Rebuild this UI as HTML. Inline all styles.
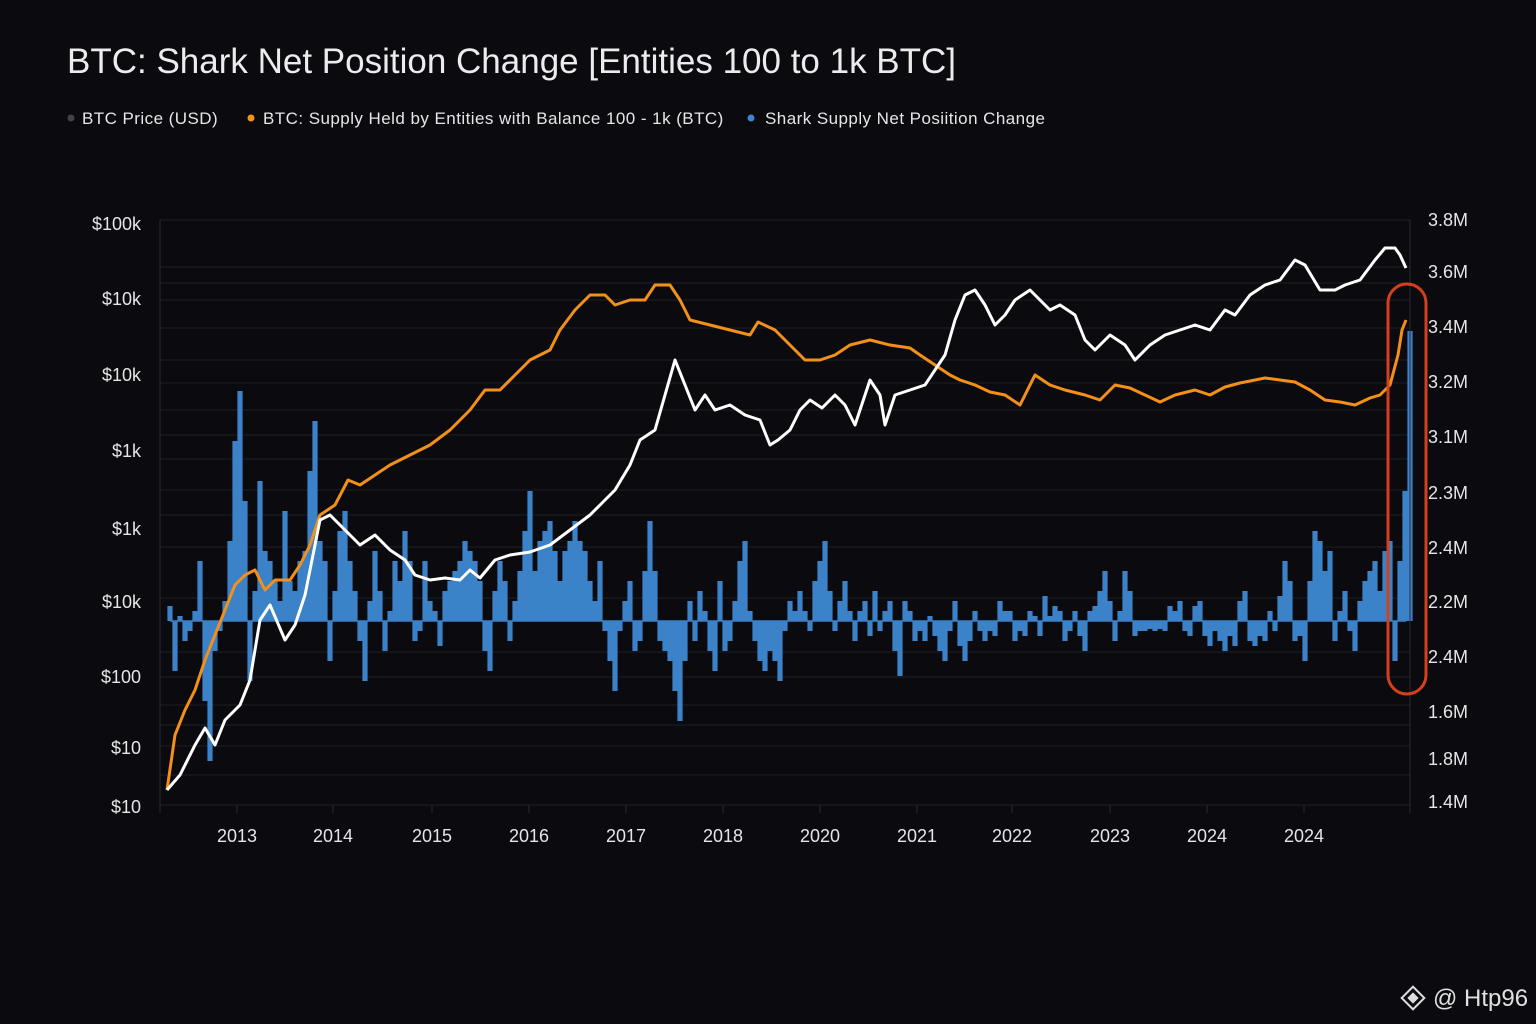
<!DOCTYPE html>
<html><head><meta charset="utf-8"><style>
html,body{margin:0;padding:0;background:#0a0a0f;}
body{width:1536px;height:1024px;overflow:hidden;font-family:"Liberation Sans",sans-serif;}
</style></head><body>
<svg id="chart" width="1536" height="1024" xmlns="http://www.w3.org/2000/svg" style="display:block">
<rect width="1536" height="1024" fill="#0a0a0f"/>
<text x="67" y="73" fill="#ececec" font-size="35">BTC: Shark Net Position Change [Entities 100 to 1k BTC]</text>
<g font-size="17" fill="#e6e6e6" letter-spacing="0.45">
 <g><circle cx="71" cy="118" r="3.5" fill="#444"/><text x="82" y="124">BTC Price (USD)</text></g>
 <g><circle cx="251" cy="118" r="3.5" fill="#f7931a"/><text x="263" y="124">BTC: Supply Held by Entities with Balance 100 - 1k (BTC)</text></g>
 <g><circle cx="751" cy="118" r="3.5" fill="#3d86cf"/><text x="765" y="124">Shark Supply Net Posiition Change</text></g>
</g>
<g id="grid"></g>
<g id="bars"></g>
<g id="lines"></g>
<g id="axes"></g>
<rect x="1388" y="284" width="38" height="410" rx="19" ry="19" fill="none" stroke="#d4401c" stroke-width="3"/>
<g>
 <g transform="translate(1413,998) rotate(45)" fill="none" stroke="#ddd" stroke-width="2"><rect x="-8" y="-8" width="16" height="16"/><rect x="-3" y="-3" width="6" height="6" fill="#ddd"/></g>
 <text x="1433" y="1006" fill="#e0e0e0" font-size="24">@ Htp96</text>
</g>
</svg>
<script>
// time units (weeks since start); value units (height above plot bottom)
const priceT=[7,20,35,45,55,65,80,90,100,110,125,135,145,155,160,170,185,200,215,230,245,255,270,285,300,310,320,335,350,370,390,410,430,440,455,470,480,495,505,515,525,535,545,555,570,585,600,610,618,630,640,650,662,675,685,695,710,720,725,735,750,765,775,785,795,805,815,825,835,845,855,870,880,890,900,915,925,935,950,965,975,990,1005,1020,1035,1050,1065,1075,1090,1105,1120,1135,1145,1160,1175,1185,1200,1215,1225,1235,1240,1246];
const priceV=[15,30,60,77,60,85,100,125,185,200,165,180,210,260,285,290,275,260,270,255,245,230,225,227,225,235,227,245,250,253,260,275,290,300,315,340,365,375,410,445,420,395,410,395,400,390,385,360,365,375,395,405,397,410,400,380,425,410,380,410,415,420,435,450,485,510,515,500,480,490,505,515,505,495,500,490,465,455,470,460,445,460,470,475,480,475,495,490,510,520,525,545,540,515,515,520,525,545,557,557,550,537,535];
const supplyT=[7,15,25,35,45,55,65,75,85,95,105,115,130,140,150,160,175,188,200,215,230,250,270,290,310,325,340,355,370,390,400,415,430,445,455,470,485,495,510,520,530,550,570,590,598,615,630,645,660,675,690,710,730,750,760,775,790,800,815,830,845,860,875,890,905,925,940,955,970,985,1000,1015,1035,1050,1065,1080,1095,1105,1120,1135,1150,1165,1180,1195,1210,1220,1230,1238,1242,1246];
const supplyV=[15,70,95,115,145,170,195,220,230,235,215,225,225,240,260,290,300,325,320,330,340,350,360,375,395,415,415,430,445,455,475,495,510,510,500,505,505,520,520,505,485,480,475,470,483,475,460,445,445,450,460,465,460,457,450,440,430,425,420,413,410,400,430,420,415,410,405,420,417,410,403,410,415,410,418,422,425,427,425,423,415,405,403,400,407,410,420,450,475,485,500,520];
const netChange=[15,-50,5,-20,-10,10,60,-80,-140,-30,-10,20,80,180,230,120,-60,30,140,70,60,40,20,110,40,30,60,70,150,200,80,60,-40,30,90,110,60,30,-20,-60,20,70,30,-30,10,60,40,90,60,-20,-10,60,20,10,-25,30,40,50,60,80,70,60,40,-30,-50,30,60,40,-20,20,50,90,130,50,80,90,100,70,40,70,80,100,80,70,40,20,60,-10,-40,-70,-10,20,40,-30,-20,50,100,50,-20,-30,-40,-70,-100,-40,20,-20,30,10,-30,-50,40,-30,-20,20,60,80,10,-20,-40,-50,-30,-40,-60,-10,20,10,30,10,-10,40,60,80,30,-10,20,40,10,-20,10,20,-15,30,-10,10,20,-30,-55,20,10,-20,-10,-20,5,-15,-30,-40,-10,20,-25,-40,-20,10,-10,-20,-10,-15,20,10,10,-20,-10,-15,10,5,-15,25,5,15,10,-20,-10,10,-15,-30,10,15,30,50,20,-20,10,50,30,-15,-10,-10,-8,-10,-8,-10,15,10,20,-10,-15,15,20,-15,-25,-10,-20,-30,-15,-25,20,30,-20,-25,-15,-20,10,-10,25,60,40,-20,-15,-40,40,90,80,50,70,-20,10,30,-10,-30,20,40,50,60,30,70,80,-40,60,130,290];
const netStartT=10, netStepT=5, netBaseV=184;
const leftTicks=["$100k","$10k","$10k","$1k","$1k","$10k","$100","$10","$10"];
const leftTickV=[581,506,430,354,276,203,128,57,-2];
const rightTicks=["3.8M","3.6M","3.4M","3.2M","3.1M","2.3M","2.4M","2.2M","2.4M","1.6M","1.8M","1.4M"];
const rightTickV=[585,533,478,423,368,312,257,203,148,93,46,3];
const yearLabels=["2013","2014","2015","2016","2017","2018","2020","2021","2022","2023","2024","2024"];
const yearT=[77,173,272,369,466,563,660,757,852,950,1047,1144];
const gridV=[585,538,522,505,477,445,422,395,370,346,315,290,258,207,153,128,100,80,59,30,0];

const X0=160,X1=1410,Y0=805,Y1=220,TMAX=1250,VMAX=585;
const xs=t=>X0+t*(X1-X0)/TMAX;
const ys=v=>Y0-v*(Y0-Y1)/VMAX;
const NS="http://www.w3.org/2000/svg";
function mk(tag,attrs,parent){const e=document.createElementNS(NS,tag);for(const k in attrs)e.setAttribute(k,attrs[k]);parent.appendChild(e);return e;}
const grid=document.getElementById('grid'),bars=document.getElementById('bars'),lines=document.getElementById('lines'),axes=document.getElementById('axes');
gridV.forEach(v=>{const l=mk('line',{x1:X0,x2:X1,y1:ys(v),y2:ys(v),stroke:'#1d1f27','stroke-width':1},grid);

});
netChange.forEach((v,i)=>{const t=netStartT+i*netStepT;const x=xs(t);const ya=ys(netBaseV),yb=ys(netBaseV+v);
const r=mk('rect',{x:x-2.6,y:Math.min(ya,yb),width:5.2,height:Math.max(0.5,Math.abs(ya-yb)),fill:'#3b82c8'},bars);

});
const bl=mk('line',{x1:xs(netStartT),x2:X1-4,y1:ys(netBaseV),y2:ys(netBaseV),stroke:'#3b82c8','stroke-width':1.5},bars);


function path(T,V,color,name){const d=T.map((t,i)=>(i?'L':'M')+xs(t).toFixed(1)+','+ys(V[i]).toFixed(1)).join('');
const p=mk('path',{d:d,fill:'none',stroke:color,'stroke-width':3,'stroke-linejoin':'round'},lines);

}
path(supplyT,supplyV,'#f39019','supply-line');
path(priceT,priceV,'#ffffff','price-line');
const la=mk('line',{x1:X0,x2:X0,y1:Y1,y2:Y0+8,stroke:'#2a2c34'},axes);


const ra=mk('line',{x1:X1,x2:X1,y1:Y1,y2:Y0+8,stroke:'#2a2c34'},axes);


leftTicks.forEach((s,i)=>{const t=mk('text',{x:141,y:ys(leftTickV[i])+6,'text-anchor':'end',fill:'#e6e6e6','font-size':18},axes);t.textContent=s;

});
rightTicks.forEach((s,i)=>{const t=mk('text',{x:1428,y:ys(rightTickV[i])+6,fill:'#e6e6e6','font-size':18},axes);t.textContent=s;

});
yearLabels.forEach((s,i)=>{const x=xs(yearT[i]);
const tk=mk('line',{x1:x,x2:x,y1:Y0,y2:Y0+8,stroke:'#2a2c34'},axes);


const t=mk('text',{x:x,y:842,'text-anchor':'middle',fill:'#e6e6e6','font-size':18},axes);t.textContent=s;

});
</script>
</body></html>
